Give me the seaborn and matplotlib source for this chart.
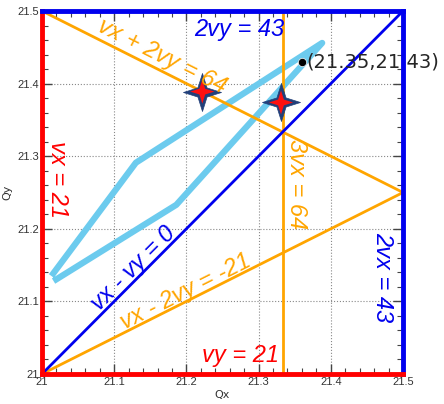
import numpy as np
import pandas as pd
import matplotlib
matplotlib.use("Agg")
import matplotlib.pyplot as plt
from matplotlib.path import Path
import seaborn as sns

# resonance lines (end points on the 21..21.5 tune square)
res_names = ["vx + 2vy = 64", "vx - 2vy = -21", "3vx = 64", "vx - vy = 0"]
res_x0 = [21.0, 21.0, 64 / 3, 21.0]
res_y0 = [21.5, 21.0, 21.0, 21.0]
res_x1 = [21.5, 21.5, 64 / 3, 21.5]
res_y1 = [21.25, 21.25, 21.5, 21.5]
res_colors = ["#ffa500", "#ffa500", "#ffa500", "#0000ee"]

# tune footprint (light blue path)
path_qx = [21.013, 21.13, 21.388, 21.186, 21.016]
path_qy = [21.135, 21.291, 21.456, 21.233, 21.128]

# star markers
star_qx = [21.222, 21.331]
star_qy = [21.389, 21.374]

# working point
wp_qx = [21.36]
wp_qy = [21.43]
wp_label = "(21.35,21.43)"

ticks = [21.0, 21.1, 21.2, 21.3, 21.4, 21.5]
tick_labels = ["21", "21.1", "21.2", "21.3", "21.4", "21.5"]

sns.set_style("ticks")
fig = plt.figure(figsize=(4.44, 4.04), dpi=100)
ax = fig.add_axes([0.0946, 0.0743, 0.8131, 0.8985])

for x0, y0, x1, y1, c in zip(res_x0, res_y0, res_x1, res_y1, res_colors):
    seg = pd.DataFrame({"qx": [x0, x1], "qy": [y0, y1]})
    sns.lineplot(data=seg, x="qx", y="qy", color=c, lw=2.0, sort=False,
                 estimator=None, ax=ax, zorder=3)

fp = pd.DataFrame({"qx": path_qx, "qy": path_qy})
sns.lineplot(data=fp, x="qx", y="qy", color="#6ccbee", lw=4.5, sort=False,
             estimator=None, ax=ax, zorder=2, solid_capstyle="butt")

# 4-pointed star
k = 0.24
star = Path([(0, 1), (k, k), (1, 0), (k, -k), (0, -1), (-k, -k), (-1, 0),
             (-k, k), (0, 1)], closed=True)
st = pd.DataFrame({"qx": star_qx, "qy": star_qy})
sns.scatterplot(data=st, x="qx", y="qy", marker=star, s=750, color="#22407a",
                edgecolor="#22407a", linewidth=0.5, ax=ax, zorder=5)
sns.scatterplot(data=st, x="qx", y="qy", marker=star, s=300, color="#ff1010",
                edgecolor="none", ax=ax, zorder=6)

wp = pd.DataFrame({"qx": wp_qx, "qy": wp_qy})
sns.scatterplot(data=wp, x="qx", y="qy", s=35, color="black", ax=ax, zorder=7)
ax.text(21.366, 21.43, wp_label, fontsize=14, va="center", ha="left",
        clip_on=False, zorder=8)

lab = dict(fontsize=17, style="italic", family="Liberation Sans",
           ha="center", va="center", zorder=9)
ax.text(21.167, 21.437, "vx + 2vy = 64", color="#ffa500", rotation=-26.7, **lab)
ax.text(21.199, 21.114, "vx - 2vy = -21", color="#ffa500", rotation=26.7, **lab)
ax.text(21.352, 21.262, "3vx = 64", color="#ffa500", rotation=-90, **lab)
ax.text(21.126, 21.145, "vx - vy = 0", color="#0000ee", rotation=45, **lab)
ax.text(21.273, 21.474, "2vy = 43", color="#0000ee", **lab)
ax.text(21.472, 21.133, "2vx = 43", color="#0000ee", rotation=-90, **lab)
ax.text(21.022, 21.268, "vx = 21", color="#ff0000", rotation=-90, **lab)
ax.text(21.275, 21.025, "vy = 21", color="#ff0000", **lab)

ax.set_xlim(21.0, 21.5)
ax.set_ylim(21.0, 21.5)
ax.set_xticks(ticks)
ax.set_xticklabels(tick_labels, family="Liberation Sans")
ax.set_yticks(ticks)
ax.set_yticklabels(tick_labels, family="Liberation Sans")
ax.set_xticks(np.arange(21.0, 21.5001, 0.02), minor=True)
ax.set_yticks(np.arange(21.0, 21.5001, 0.02), minor=True)
ax.tick_params(which="both", direction="in", top=True, right=True,
               color="#444444", labelsize=8, labelcolor="#333333", pad=2)
ax.tick_params(which="major", length=7, width=1)
ax.tick_params(which="minor", length=4, width=0.8)
ax.grid(True, which="major", ls=":", color="#888888", lw=0.8)
ax.set_xlabel("Qx", fontsize=8, color="#333333", labelpad=2)
ax.set_ylabel("Qy", fontsize=8, color="#333333", labelpad=4)

for side, c in [("left", "red"), ("bottom", "red"), ("top", "#0000ee"),
                ("right", "#0000ee")]:
    ax.spines[side].set_color(c)
    ax.spines[side].set_linewidth(3.5)
    ax.spines[side].set_zorder(10)

fig.savefig("out.png", dpi=100)
